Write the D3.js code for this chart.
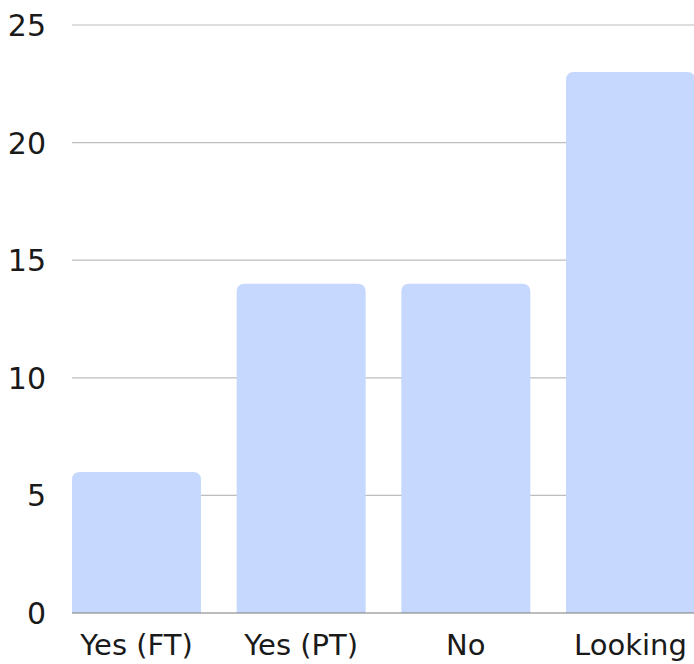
<!DOCTYPE html>
<html>
<head>
<meta charset="utf-8">
<script src="https://cdn.jsdelivr.net/npm/d3@7"></script>
<style>
  html, body { margin: 0; padding: 0; background: #fff; }
  svg { display: block; font-family: "DejaVu Sans", "Noto Sans", sans-serif; }
</style>
</head>
<body>
<svg id="chart" width="694" height="664"></svg>
<script>
const categories = ["Yes (FT)", "Yes (PT)", "No", "Looking"];
const counts = [6, 14, 14, 23];
const yTicks = [0, 5, 10, 15, 20, 25];

const svg = d3.select("#chart");
const plot = { left: 72, right: 694, top: 25, bottom: 613 };

const x = d3.scaleBand()
  .domain(categories)
  .range([plot.left, 695])
  .paddingInner(0.2167)
  .paddingOuter(0);

const y = d3.scaleLinear().domain([0, 25]).range([plot.bottom, plot.top]);

// horizontal gridlines
svg.append("g")
  .selectAll("line")
  .data(yTicks.filter(t => t > 0))
  .join("line")
  .attr("x1", plot.left).attr("x2", plot.right)
  .attr("y1", d => y(d)).attr("y2", d => y(d))
  .attr("stroke", "#bdbdbd").attr("stroke-width", 1.2);

// bars with rounded top corners
const r = 8;
svg.append("g")
  .selectAll("path")
  .data(categories.map((c, i) => ({ c, v: counts[i] })))
  .join("path")
  .attr("fill", "#c6d8fd")
  .attr("d", d => {
    const x0 = x(d.c), w = x.bandwidth(), y0 = y(d.v), yb = y(0);
    return `M${x0},${yb}V${y0 + r}Q${x0},${y0} ${x0 + r},${y0}H${x0 + w - r}Q${x0 + w},${y0} ${x0 + w},${y0 + r}V${yb}Z`;
  });

// baseline
svg.append("line")
  .attr("x1", plot.left).attr("x2", plot.right)
  .attr("y1", y(0)).attr("y2", y(0))
  .attr("stroke", "#7a7a7a").attr("stroke-width", 1.2);

// y tick labels
svg.append("g")
  .selectAll("text")
  .data(yTicks)
  .join("text")
  .attr("x", 46)
  .attr("y", d => y(d) + 11)
  .attr("text-anchor", "end")
  .attr("font-size", 30)
  .attr("fill", "#1a1a1a")
  .text(d => d);

// category labels
svg.append("g")
  .selectAll("text")
  .data(categories)
  .join("text")
  .attr("x", d => x(d) + x.bandwidth() / 2)
  .attr("y", 655)
  .attr("text-anchor", "middle")
  .attr("font-size", 29)
  .attr("fill", "#1a1a1a")
  .text(d => d);
</script>
</body>
</html>
